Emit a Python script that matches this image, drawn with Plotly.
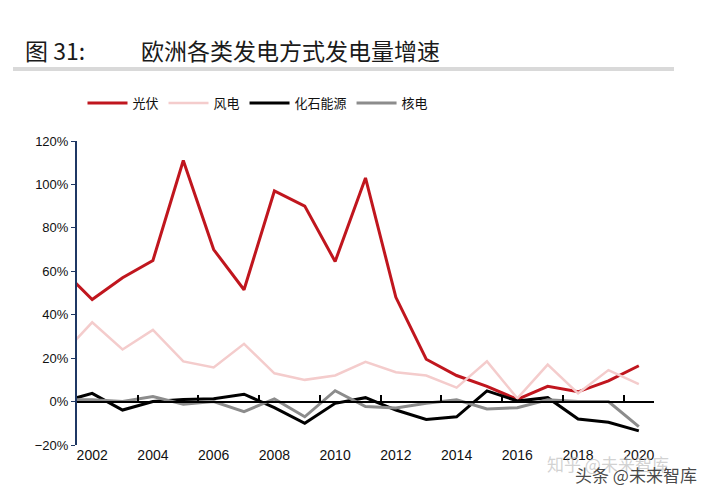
import plotly.graph_objects as go

years = list(range(2001, 2021))
solar = [61, 47, 57, 65, 111, 70, 51.5, 97, 90, 64.5, 103, 48, 19.5, 12, 7, 1, 7, 4.5, 9.5, 16.5]
wind = [21.5, 36.5, 24, 33, 18.5, 15.7, 26.6, 13, 10, 12, 18.3, 13.5, 12, 6.4, 18.5, 1.5, 17, 3.8, 14.5, 8]
fossil = [-0.2, 3.8, -3.9, 0, 1, 1.3, 3.4, -2.8, -10, -0.8, 1.8, -3.9, -8.2, -7, 4.9, 0.3, 1.8, -8, -9.5, -13.5]
nuclear = [0.8, 0.8, 0, 2.3, -1.2, 0, -4.6, 1.2, -7, 5, -2.3, -3, -0.8, 0.8, -3.4, -2.8, 0.8, 0, 0, -11.5]

y_ticks = [-20, 0, 20, 40, 60, 80, 100, 120]
y_labels = ["−20%", "0%", "20%", "40%", "60%", "80%", "100%", "120%"]
x_ticks = [2002, 2004, 2006, 2008, 2010, 2012, 2014, 2016, 2018, 2020]

series = [
    ("光伏", solar, "#c0161e", 3),
    ("风电", wind, "#f4cccc", 2.5),
    ("化石能源", fossil, "#000000", 3),
    ("核电", nuclear, "#8c8c8c", 3),
]

# plot area in pixels: x 69..646, y 133..437
L, R, T, B = 69, 646, 133, 437
W, H = 712, 487


def px(x):
    return (x - L) / (R - L)


def py(y):
    return (B - y) / (B - T)


fig = go.Figure()
for name, vals, color, width in series:
    fig.add_trace(go.Scatter(
        x=years, y=vals, name=name, mode="lines",
        line=dict(color=color, width=width),
        hovertemplate="%{x}: %{y}%<extra></extra>",
    ))

# invisible trace so the zero axis (x2) gets drawn
fig.add_trace(go.Scatter(x=[2010], y=[0], xaxis="x2", mode="markers",
                         marker=dict(opacity=0), showlegend=False, hoverinfo="skip"))

cjk = "Noto Sans CJK SC"
fig.update_layout(
    width=W, height=H,
    margin=dict(l=L, r=W - R, t=T, b=H - B),
    plot_bgcolor="white", paper_bgcolor="white",
    showlegend=True,
    legend=dict(orientation="h", x=px(250), xanchor="center", y=py(95), yanchor="middle",
                font=dict(family=cjk, size=13, color="#111"), itemwidth=40,
                bgcolor="rgba(0,0,0,0)"),
    xaxis=dict(range=[2001.5, 2020.5], tickvals=x_ticks,
               showline=False, showgrid=False, zeroline=False, ticks="",
               tickfont=dict(family="Liberation Sans", size=14, color="#111")),
    xaxis2=dict(overlaying="x", anchor="free", position=20 / 140,
                range=[2001.5, 2020.5], showline=True, linecolor="black", linewidth=2,
                ticks="inside", ticklen=6, tickwidth=1.5, tickcolor="black",
                tickvals=[2003.5 + 2 * i for i in range(9)],
                showticklabels=False, showgrid=False, zeroline=False),
    yaxis=dict(range=[-20, 120], tickvals=y_ticks, ticktext=y_labels,
               showline=True, linecolor="#1f3864", linewidth=2,
               ticks="outside", ticklen=4, tickcolor="#1f3864",
               showgrid=False, zeroline=False,
               tickfont=dict(family="Liberation Sans", size=13, color="#111")),
    annotations=[
        dict(text="图 31:", x=px(15), y=py(42), xref="paper", yref="paper",
             xanchor="left", yanchor="middle", showarrow=False,
             font=dict(family=cjk, size=23, color="#1a1a1a")),
        dict(text="欧洲各类发电方式发电量增速", x=px(131), y=py(42), xref="paper", yref="paper",
             xanchor="left", yanchor="middle", showarrow=False,
             font=dict(family=cjk, size=23, color="#1a1a1a")),
        dict(text="知乎 @未来智库", x=px(537), y=py(455), xref="paper", yref="paper",
             xanchor="left", yanchor="middle", showarrow=False,
             font=dict(family=cjk, size=17, color="rgba(190,190,190,0.7)")),
        dict(text="头条 @未来智库", x=px(565), y=py(466), xref="paper", yref="paper",
             xanchor="left", yanchor="middle", showarrow=False,
             font=dict(family=cjk, size=17, color="rgba(40,40,40,0.85)")),
    ],
    shapes=[
        dict(type="line", xref="paper", yref="paper", x0=px(5), x1=px(666),
             y0=py(61), y1=py(61), line=dict(color="#d9d9d9", width=4)),
    ],
)

fig.write_html("out.html")
